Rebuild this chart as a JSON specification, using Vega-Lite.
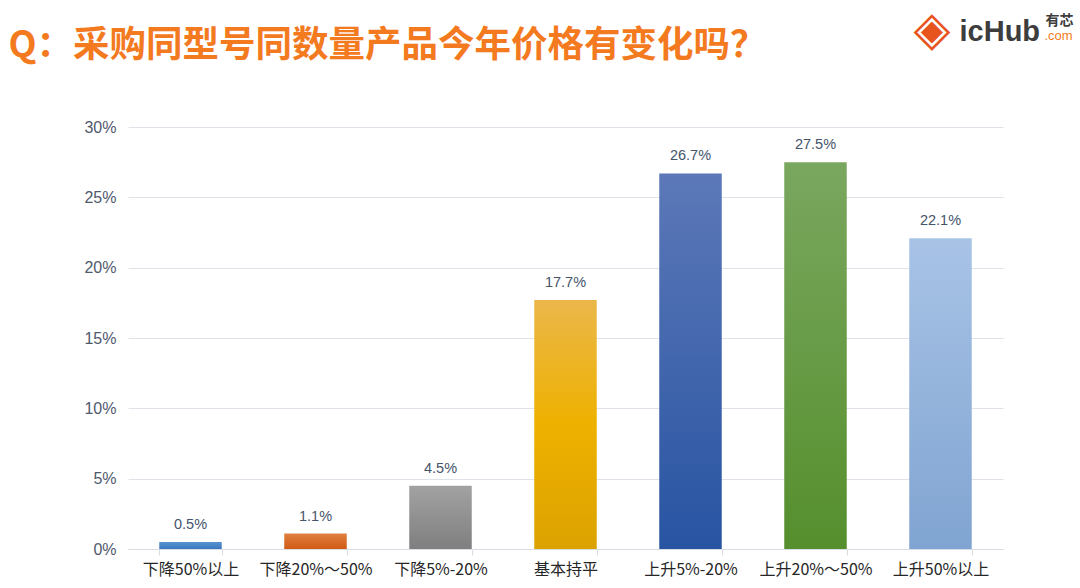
{
  "$schema": "https://vega.github.io/schema/vega-lite/v6.json",
  "width": 875,
  "height": 422,
  "autosize": {"type": "none"},
  "padding": {"left": 128, "top": 127, "right": 77, "bottom": 39},
  "background": "white",
  "config": {
    "view": {"stroke": null},
    "font": "Noto Sans CJK SC"
  },
  "data": {
    "values": [
      {"category": "下降50%以上", "share": 0.005},
      {"category": "下降20%～50%", "share": 0.011},
      {"category": "下降5%-20%", "share": 0.045},
      {"category": "基本持平", "share": 0.177},
      {"category": "上升5%-20%", "share": 0.267},
      {"category": "上升20%～50%", "share": 0.275},
      {"category": "上升50%以上", "share": 0.221}
    ]
  },
  "encoding": {
    "x": {
      "field": "category",
      "type": "nominal",
      "sort": null,
      "title": null,
      "scale": {"paddingInner": 0.5, "paddingOuter": 0.25},
      "axis": {
        "labelAngle": 0,
        "labelFontSize": 16,
        "labelColor": "#262626",
        "labelPadding": 6,
        "domainColor": "#d9dde3",
        "tickColor": "#d9dde3",
        "tickBand": "extent",
        "tickSize": 6,
        "grid": false
      }
    },
    "y": {
      "field": "share",
      "type": "quantitative",
      "title": null,
      "scale": {"domain": [0, 0.3]},
      "axis": {
        "format": ".0%",
        "values": [0, 0.05, 0.1, 0.15, 0.2, 0.25, 0.3],
        "labelFont": "Liberation Sans",
        "labelFontSize": 16,
        "labelColor": "#50596c",
        "labelPadding": 12,
        "domain": false,
        "ticks": false,
        "gridColor": "#dfe3e9",
        "gridWidth": 1.2
      }
    }
  },
  "layer": [
    {
      "transform": [{"filter": "datum.category == '下降50%以上'"}],
      "mark": {"type": "bar", "color": {"gradient": "linear", "x1": 0, "y1": 0, "x2": 0, "y2": 1, "stops": [{"offset": 0, "color": "#5894d2"}, {"offset": 1, "color": "#3b78bd"}]}}
    },
    {
      "transform": [{"filter": "datum.category == '下降20%～50%'"}],
      "mark": {"type": "bar", "color": {"gradient": "linear", "x1": 0, "y1": 0, "x2": 0, "y2": 1, "stops": [{"offset": 0, "color": "#e0803f"}, {"offset": 1, "color": "#d05a14"}]}}
    },
    {
      "transform": [{"filter": "datum.category == '下降5%-20%'"}],
      "mark": {"type": "bar", "color": {"gradient": "linear", "x1": 0, "y1": 0, "x2": 0, "y2": 1, "stops": [{"offset": 0, "color": "#a2a2a2"}, {"offset": 1, "color": "#7f7f7f"}]}}
    },
    {
      "transform": [{"filter": "datum.category == '基本持平'"}],
      "mark": {"type": "bar", "color": {"gradient": "linear", "x1": 0, "y1": 0, "x2": 0, "y2": 1, "stops": [{"offset": 0, "color": "#ebb74a"}, {"offset": 0.5, "color": "#eeb100"}, {"offset": 1, "color": "#dca200"}]}}
    },
    {
      "transform": [{"filter": "datum.category == '上升5%-20%'"}],
      "mark": {"type": "bar", "color": {"gradient": "linear", "x1": 0, "y1": 0, "x2": 0, "y2": 1, "stops": [{"offset": 0, "color": "#5c78b8"}, {"offset": 1, "color": "#2854a2"}]}}
    },
    {
      "transform": [{"filter": "datum.category == '上升20%～50%'"}],
      "mark": {"type": "bar", "color": {"gradient": "linear", "x1": 0, "y1": 0, "x2": 0, "y2": 1, "stops": [{"offset": 0, "color": "#7aa75f"}, {"offset": 1, "color": "#558f2d"}]}}
    },
    {
      "transform": [{"filter": "datum.category == '上升50%以上'"}],
      "mark": {"type": "bar", "color": {"gradient": "linear", "x1": 0, "y1": 0, "x2": 0, "y2": 1, "stops": [{"offset": 0, "color": "#a8c3e6"}, {"offset": 1, "color": "#80a4d1"}]}}
    },
    {
      "mark": {"type": "text", "baseline": "bottom", "dy": -10, "font": "Liberation Sans", "fontSize": 14.5, "color": "#44546a"},
      "encoding": {"text": {"field": "share", "type": "quantitative", "format": ".1%"}}
    },
    {
      "transform": [{"filter": "datum.category == '下降50%以上'"}],
      "mark": {"type": "text", "align": "left", "baseline": "middle", "dx": -182, "fontSize": 36.5, "fontWeight": "bold", "color": "#F47A1F"},
      "encoding": {"y": {"datum": 0.3576}, "text": {"value": "Q：采购同型号同数量产品今年价格有变化吗？"}}
    },
    {
      "transform": [{"filter": "datum.category == '上升50%以上'"}],
      "mark": {"type": "text", "align": "left", "baseline": "middle", "dx": 19, "font": "Liberation Sans", "fontSize": 29, "fontWeight": "bold", "color": "#3d3d3d"},
      "encoding": {"y": {"datum": 0.3676}, "text": {"value": "icHub"}}
    },
    {
      "transform": [{"filter": "datum.category == '上升50%以上'"}],
      "mark": {"type": "text", "align": "left", "baseline": "middle", "dx": 105, "fontSize": 14, "fontWeight": "bold", "color": "#3d3d3d"},
      "encoding": {"y": {"datum": 0.3755}, "text": {"value": "有芯"}}
    },
    {
      "transform": [{"filter": "datum.category == '上升50%以上'"}],
      "mark": {"type": "text", "align": "left", "baseline": "middle", "dx": 104, "font": "Liberation Sans", "fontSize": 13, "color": "#F47A1F"},
      "encoding": {"y": {"datum": 0.3648}, "text": {"value": ".com"}}
    },
    {
      "transform": [{"filter": "datum.category == '上升50%以上'"}],
      "mark": {"type": "text", "align": "left", "baseline": "middle", "dx": -27, "font": "DejaVu Sans", "fontSize": 48, "color": "#E8541E"},
      "encoding": {"y": {"datum": 0.3686}, "text": {"value": "◈"}}
    }
  ]
}
